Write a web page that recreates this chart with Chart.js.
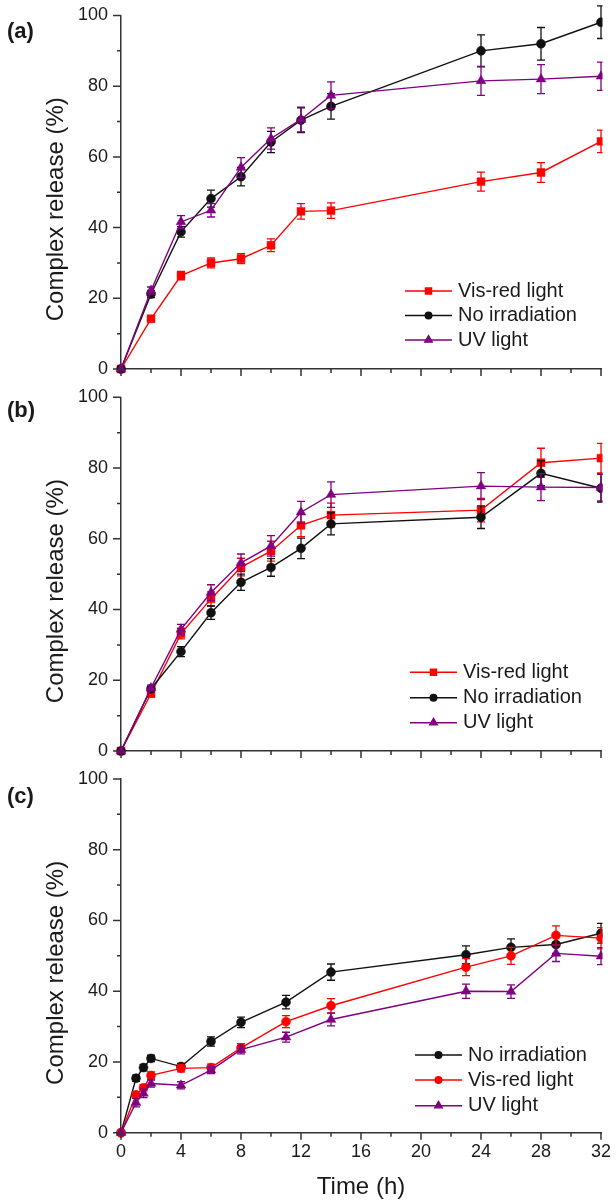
<!DOCTYPE html>
<html><head><meta charset="utf-8">
<script src="https://cdn.jsdelivr.net/npm/chart.js@4.4.1/dist/chart.umd.min.js"></script>
<style>
html,body{margin:0;padding:0;background:#fff;}
#wrap{position:relative;width:616px;height:1204px;overflow:hidden;background:#fff;}
canvas{position:absolute;left:0;}
</style></head><body>
<div id="wrap">
<canvas id="ca" width="616" height="385" style="top:0px"></canvas>
<canvas id="cb" width="616" height="385" style="top:385px"></canvas>
<canvas id="cc" width="616" height="438" style="top:766px"></canvas>
</div>
<script>
// ---------- data ----------
const timeAB = [0, 2, 4, 6, 8, 10, 12, 14, 24, 28, 32];
const timeC = [0, 1, 1.5, 2, 4, 6, 8, 11, 14, 23, 26, 29, 32];

const aVisRed    = [0, 14.2, 26.4, 30.0, 31.2, 35.0, 44.6, 44.8, 53.0, 55.6, 64.4];
const aVisRedErr = [0, 0.7, 1.2, 1.4, 1.4, 1.8, 2.2, 2.2, 2.7, 2.8, 3.2];
const aNoIrr     = [0, 21.2, 38.8, 48.2, 54.4, 64.2, 70.4, 74.3, 90.0, 92.0, 98.1];
const aNoIrrErr  = [0, 1.0, 1.5, 2.4, 2.6, 3.0, 3.5, 3.6, 4.5, 4.6, 4.6];
const aUV        = [0, 22.2, 41.6, 44.9, 57.0, 65.2, 70.6, 77.4, 81.5, 82.0, 82.8];
const aUVErr     = [0, 1.0, 1.8, 1.9, 2.8, 3.0, 3.5, 3.8, 4.1, 4.1, 4.0];

const bVisRed    = [0, 16.2, 33.2, 43.0, 52.0, 56.5, 63.8, 66.7, 68.1, 81.5, 82.8];
const bVisRedErr = [0, 0.8, 1.5, 2.0, 2.5, 2.8, 3.2, 3.4, 3.3, 4.1, 4.2];
const bNoIrr     = [0, 17.6, 28.1, 39.1, 47.7, 51.9, 57.3, 64.2, 66.1, 78.5, 74.3];
const bNoIrrErr  = [0, 0.8, 1.4, 1.9, 2.3, 2.5, 2.9, 3.1, 3.2, 3.5, 3.9];
const bUV        = [0, 17.8, 34.4, 44.8, 53.2, 58.0, 67.5, 72.5, 74.9, 74.6, 74.5];
const bUVErr     = [0, 0.8, 1.4, 2.2, 2.5, 2.9, 3.1, 3.6, 3.8, 3.8, 3.8];

const cNoIrr     = [0, 15.4, 18.4, 21.0, 18.7, 25.8, 31.2, 36.9, 45.4, 50.3, 52.4, 53.2, 56.4];
const cNoIrrErr  = [0, 0.9, 0.9, 0.9, 0.9, 1.3, 1.5, 1.9, 2.3, 2.5, 2.4, 2.5, 2.8];
const cVisRed    = [0, 10.7, 12.7, 16.2, 18.2, 18.4, 24.0, 31.4, 35.9, 46.8, 50.0, 55.8, 55.0];
const cVisRedErr = [0, 0.9, 0.9, 1.0, 1.0, 1.0, 1.2, 1.7, 2.0, 2.4, 2.4, 2.7, 3.0];
const cUV        = [0, 8.5, 11.1, 13.9, 13.4, 17.7, 23.5, 27.0, 32.0, 40.0, 39.9, 50.7, 49.9];
const cUVErr     = [0, 1.2, 1.2, 1.0, 1.0, 1.0, 1.2, 1.4, 1.8, 2.0, 1.9, 2.3, 2.4];

const xTicks = [0, 4, 8, 12, 16, 20, 24, 28, 32];
const xMinorTicks = [2, 6, 10, 14, 18, 22, 26, 30];
const yTicks = [0, 20, 40, 60, 80, 100];
const yMinorTicks = [10, 30, 50, 70, 90];

const labelVis = 'Vis-red light', labelNo = 'No irradiation', labelUV = 'UV light';
const yTitle = 'Complex release (%)', xTitle = 'Time (h)';

// ---------- style ----------
const FONT = "'Liberation Sans', Arial, Helvetica, sans-serif";
Chart.defaults.font.family = FONT;
Chart.defaults.color = '#1a1a1a';
const RED = '#ff0000', BLACK = '#111111', PURPLE = '#800080', AXIS = '#333333', TXT = '#1a1a1a';
const CLIP_RIGHT = 1.5;

function makeSet(label, times, vals, errs, color, style, radius, order) {
  return {
    label, order, errors: errs,
    data: times.map((t, i) => ({x: t, y: vals[i]})),
    borderColor: color, backgroundColor: color,
    borderWidth: 1.4, pointStyle: style, pointRadius: radius,
    pointBorderWidth: 0.5, pointBorderColor: color, pointBackgroundColor: color,
    clip: {left: 12, top: 12, right: CLIP_RIGHT, bottom: 12}, tension: 0
  };
}

const decor = {
  id: 'decor',
  beforeDatasetDraw(chart, args) {
    const ds = chart.data.datasets[args.index];
    if (!ds.errors) return;
    const ys = chart.scales.y, ctx = chart.ctx, meta = args.meta, ca = chart.chartArea;
    ctx.save();
    ctx.beginPath();
    ctx.rect(0, 0, ca.right + CLIP_RIGHT, chart.height);
    ctx.clip();
    ctx.strokeStyle = ds.borderColor; ctx.lineWidth = 1.3;
    ds.data.forEach((p, i) => {
      const e = ds.errors[i]; if (!e) return;
      const px = meta.data[i].x;
      const y1 = ys.getPixelForValue(p.y + e), y2 = ys.getPixelForValue(p.y - e);
      ctx.beginPath();
      ctx.moveTo(px, y1); ctx.lineTo(px, y2);
      ctx.moveTo(px - 4, y1); ctx.lineTo(px + 4, y1);
      ctx.moveTo(px - 4, y2); ctx.lineTo(px + 4, y2);
      ctx.stroke();
    });
    ctx.restore();
  },
  afterDraw(chart, args, opts) {
    const ctx = chart.ctx, xs = chart.scales.x, ys = chart.scales.y, ca = chart.chartArea;
    ctx.save();
    ctx.strokeStyle = AXIS; ctx.lineWidth = 1.5;
    ctx.beginPath();
    yTicks.forEach(v => { const py = ys.getPixelForValue(v); ctx.moveTo(ca.left - 8, py); ctx.lineTo(ca.left, py); });
    yMinorTicks.forEach(v => { const py = ys.getPixelForValue(v); ctx.moveTo(ca.left - 4, py); ctx.lineTo(ca.left, py); });
    xTicks.forEach(v => { const px = xs.getPixelForValue(v); ctx.moveTo(px, ca.bottom); ctx.lineTo(px, ca.bottom + 7); });
    xMinorTicks.forEach(v => { const px = xs.getPixelForValue(v); ctx.moveTo(px, ca.bottom); ctx.lineTo(px, ca.bottom + 4); });
    ctx.stroke();
    // y title
    ctx.fillStyle = TXT;
    ctx.save();
    ctx.translate(56, (ca.top + ca.bottom) / 2 + 17);
    ctx.rotate(-Math.PI / 2);
    ctx.font = '24px ' + FONT; ctx.textAlign = 'center'; ctx.textBaseline = 'middle';
    ctx.fillText(yTitle, 0, 0);
    ctx.restore();
    // panel label
    ctx.font = 'bold 22px ' + FONT; ctx.textAlign = 'left'; ctx.textBaseline = 'middle';
    ctx.fillText(opts.panel, 7, opts.panelY);
    // legend
    const L = opts.legend;
    L.items.forEach((idx, k) => {
      const ds = chart.data.datasets[idx];
      const ly = L.rows[k];
      ctx.strokeStyle = ds.borderColor; ctx.lineWidth = ds.borderWidth;
      ctx.beginPath(); ctx.moveTo(L.x0, ly); ctx.lineTo(L.x1, ly); ctx.stroke();
      ctx.fillStyle = ds.backgroundColor;
      const r = ds.pointStyle === 'circle' ? 3.3 : 4.3;
      Chart.helpers.drawPoint(ctx, {pointStyle: ds.pointStyle, radius: r, rotation: 0, borderWidth: 0.5}, (L.x0 + L.x1) / 2, ly);
      ctx.fillStyle = TXT; ctx.font = '20px ' + FONT; ctx.textAlign = 'left'; ctx.textBaseline = 'middle';
      ctx.fillText(ds.label, L.tx, ly);
    });
    ctx.restore();
  }
};

function makeChart(id, datasets, cfg) {
  return new Chart(document.getElementById(id), {
    type: 'line',
    data: {datasets},
    plugins: [decor],
    options: {
      responsive: false, animation: false, devicePixelRatio: 1,
      layout: {padding: {left: 0, right: 15, top: cfg.top, bottom: 0}},
      events: [],
      plugins: {legend: {display: false}, tooltip: {enabled: false},
        decor: {panel: cfg.panel, panelY: cfg.panelY, legend: cfg.legend}},
      scales: {
        x: {
          type: 'linear', min: 0, max: 32,
          afterBuildTicks: s => { s.ticks = xTicks.map(v => ({value: v})); },
          ticks: {display: cfg.showX, padding: 9, font: {size: 18}, color: TXT, maxRotation: 0, autoSkip: false},
          grid: {drawOnChartArea: false, drawTicks: false},
          border: {color: AXIS, width: 1.5},
          title: {display: cfg.showX, text: xTitle, font: {size: 24}, color: TXT, padding: {top: 0, bottom: 2}},
          afterFit: s => { s.height = cfg.xh; s.paddingLeft = 0; s.paddingRight = 0; }
        },
        y: {
          type: 'linear', min: 0, max: 100,
          afterBuildTicks: s => { s.ticks = yTicks.map(v => ({value: v})); },
          ticks: {padding: 13, font: {size: 18}, color: TXT},
          grid: {drawOnChartArea: false, drawTicks: false},
          border: {color: AXIS, width: 1.5},
          afterFit: s => { s.width = 121; s.paddingTop = 0; s.paddingBottom = 0; }
        }
      }
    }
  });
}

makeChart('ca', [
  makeSet(labelVis, timeAB, aVisRed, aVisRedErr, RED, 'rect', 5.6, 2),
  makeSet(labelNo, timeAB, aNoIrr, aNoIrrErr, BLACK, 'circle', 4.5, 1),
  makeSet(labelUV, timeAB, aUV, aUVErr, PURPLE, 'triangle', 5.6, 0)
], {top: 15.5, xh: 16, showX: false, panel: '(a)', panelY: 32,
    legend: {items: [0, 1, 2], rows: [291, 315.5, 340], x0: 405, x1: 452, tx: 458}});

makeChart('cb', [
  makeSet(labelVis, timeAB, bVisRed, bVisRedErr, RED, 'rect', 5.6, 2),
  makeSet(labelNo, timeAB, bNoIrr, bNoIrrErr, BLACK, 'circle', 4.5, 1),
  makeSet(labelUV, timeAB, bUV, bUVErr, PURPLE, 'triangle', 5.6, 0)
], {top: 12.3, xh: 19, showX: false, panel: '(b)', panelY: 26,
    legend: {items: [0, 1, 2], rows: [287.3, 312.7, 337.7], x0: 410, x1: 457, tx: 463}});

makeChart('cc', [
  makeSet(labelNo, timeC, cNoIrr, cNoIrrErr, BLACK, 'circle', 4.5, 2),
  makeSet(labelVis, timeC, cVisRed, cVisRedErr, RED, 'circle', 4.5, 1),
  makeSet(labelUV, timeC, cUV, cUVErr, PURPLE, 'triangle', 5.6, 0)
], {top: 13, xh: 71.3, showX: true, panel: '(c)', panelY: 31,
    legend: {items: [0, 1, 2], rows: [289, 314, 339.7], x0: 415, x1: 462, tx: 468}});
</script>
</body></html>
